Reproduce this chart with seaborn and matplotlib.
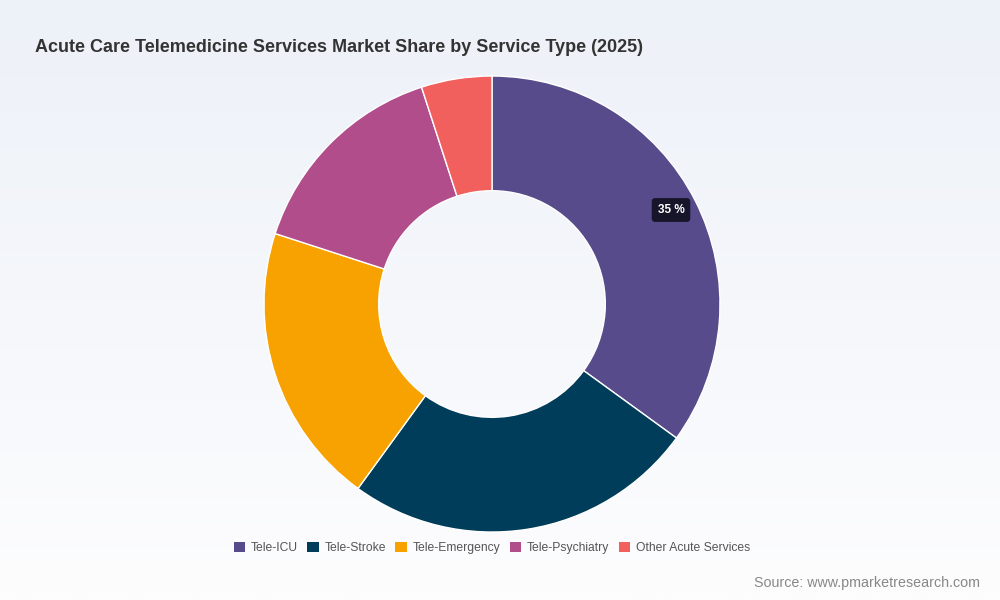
import numpy as np
import matplotlib
matplotlib.use("Agg")
import matplotlib.pyplot as plt
import seaborn as sns
from matplotlib.patches import Patch

# data
services = ["Tele-ICU", "Tele-Stroke", "Tele-Emergency", "Tele-Psychiatry", "Other Acute Services"]
shares = [35, 25, 20, 15, 5]
colors = ["#574b8b", "#003d5a", "#f7a200", "#b24d8c", "#f2605e"]

sns.set_theme(style="white")
plt.rcParams["font.family"] = ["Liberation Sans", "DejaVu Sans"]

fig = plt.figure(figsize=(10, 6), dpi=100)

# soft vertical background gradient
bg = fig.add_axes([0, 0, 1, 1], zorder=-10)
grad = np.linspace(0, 1, 256).reshape(-1, 1)
cmap = matplotlib.colors.LinearSegmentedColormap.from_list("bg", ["#edf1f8", "#fdfdfe"])
bg.imshow(grad, aspect="auto", cmap=cmap, extent=[0, 1, 0, 1], origin="upper")
bg.axis("off")

# donut
ax = fig.add_axes([0.264, 0.1133, 0.456, 0.76])
ax.set_facecolor("none")
wedges, _ = ax.pie(shares, colors=colors, startangle=90, counterclock=False,
                   radius=1.0, wedgeprops=dict(width=0.503, edgecolor="white", linewidth=1))
ax.set_xlim(-1, 1)
ax.set_ylim(-1, 1)
ax.set_aspect("equal")
ax.axis("off")

# hover-style label on the largest slice
fig.text(0.671, 1 - 210 / 600, "35 %", ha="center", va="center", fontsize=8.5,
         fontweight="bold", color="white",
         bbox=dict(boxstyle="round,pad=0.5,rounding_size=0.3", fc="#16152a", ec="none"))

fig.text(0.035, 1 - 47 / 600, "Acute Care Telemedicine Services Market Share by Service Type (2025)",
         ha="left", va="center", fontsize=13, fontweight="bold", color="#333333")

handles = [Patch(facecolor=c, edgecolor="none", label=s) for s, c in zip(services, colors)]
fig.legend(handles=handles, loc="center", bbox_to_anchor=(0.492, 1 - 548 / 600), ncol=5,
           frameon=False, fontsize=8.7, handlelength=0.95, handleheight=0.95,
           handletextpad=0.5, columnspacing=0.75, labelcolor="#555555")

fig.text(0.98, 1 - 583 / 600, "Source: www.pmarketresearch.com", ha="right", va="center",
         fontsize=10.3, color="#888888")

fig.savefig("out.png", dpi=100)
